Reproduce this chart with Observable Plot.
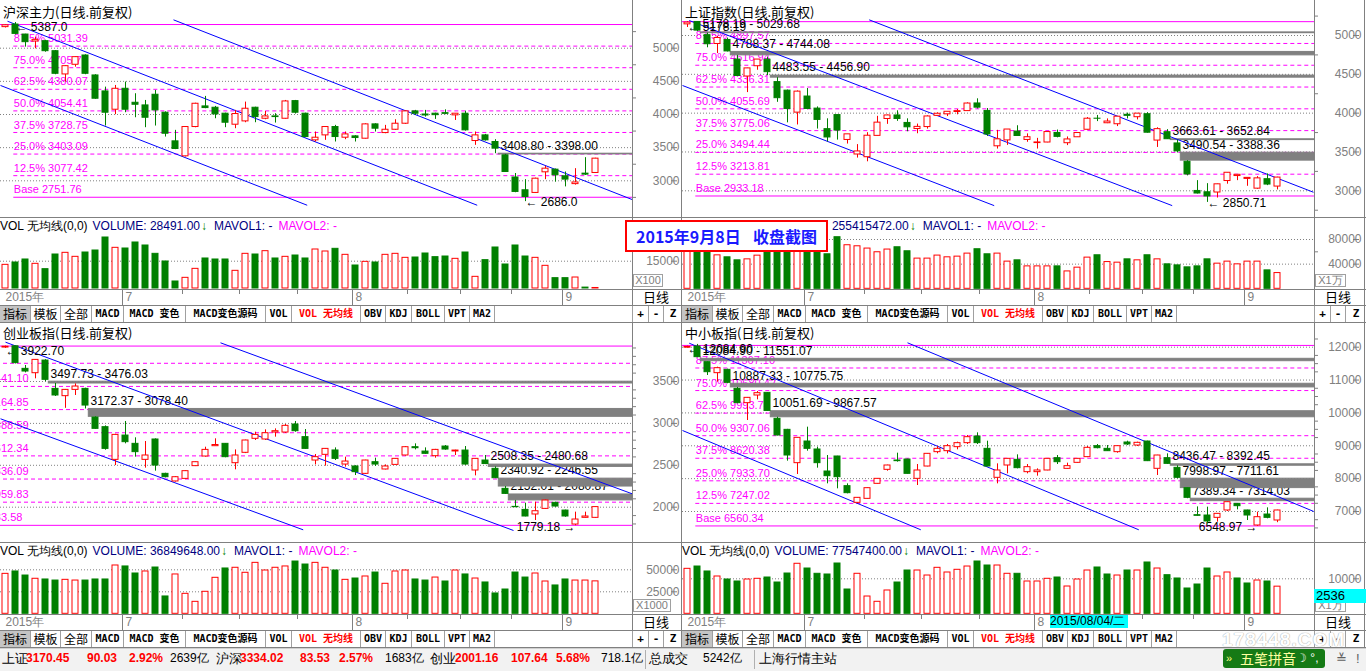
<!DOCTYPE html>
<html>
<head>
<meta charset="utf-8">
<script src="https://cdn.jsdelivr.net/npm/d3@7"></script>
<script src="https://cdn.jsdelivr.net/npm/@observablehq/plot@0.6"></script>
<style>
html, body { margin: 0; padding: 0; background: #fff; }
#root { position: relative; width: 1366px; height: 671px; overflow: hidden; background: #fff; font-family: "Liberation Sans", Arial, sans-serif; color: #000; }
#root .a { position: absolute; white-space: nowrap; }
.cjk { font-family: "Noto Sans CJK SC", "Liberation Sans", sans-serif; }
</style>
</head>
<body>
<div id="root"></div>
<script>
// ---------------- DATA ----------------
// 沪深主力
const hsOpen  = [5318,5357,5206,5101,5106,4955,4604,4750,4890,4589,4348,4072,4388,4177,4137,4298,4027,3595,3369,3811,4122,4102,4012,3846,3896,4102,3936,3971,3936,4202,4012,3610,3685,3811,3650,3670,3635,3851,3720,3770,3861,4047,4000,4012,4020,3987,4012,3600,3685,3585,3384,3050,2857,2817,3128,3168,3068,2950,3108,3118];
const hsHigh  = [5352,5387,5210,5166,5120,4965,4735,4870,4900,4600,4413,4438,4489,4313,4212,4363,4040,3761,3815,4170,4273,4122,4020,4062,4187,4110,4047,4012,4212,4212,4020,3736,3815,3836,3736,3680,3860,3860,3836,3921,4060,4062,4062,4020,4070,4015,4050,3736,3700,3620,3398,3110,3017,3040,3218,3178,3133,3183,3349,3340];
const hsLow   = [5305,5200,5016,4991,4940,4600,4489,4714,4600,4230,3826,3997,4027,3951,3801,3826,3660,3470,3360,3800,4087,3936,3801,3786,3876,3876,3921,3871,3930,4007,3650,3585,3610,3585,3620,3585,3630,3736,3710,3760,3850,3987,3961,3926,3997,3910,3750,3535,3600,3408.8,3125,2820,2686,2810,3017,2980,2908,2935,3080,3110];
const hsClose = [5345,5216,5091,5126,4955,4614,4729,4865,4614,4238,4027,4388,4072,4147,3951,4062,3710,3480,3811,4162,4097,4002,3876,4007,4087,3961,3971,3961,4197,4027,3660,3650,3811,3660,3700,3645,3851,3786,3770,3861,4047,4012,3985,3990,4010,4012,3761,3685,3610,3485,3133,2832,2756,3032,3183,3083,3018,2975,3093,3334.02];
const hsVol   = [13000,14290,15940,13560,10620,18680,19600,17400,19780,20880,28020,22350,21980,25280,23630,19050,14840,3850,5860,10800,16490,15940,15940,9710,19050,18680,20510,16490,17400,18130,16490,21430,20330,21800,18500,12640,14650,14290,18500,19050,16850,17030,19230,17220,17580,16300,19780,6410,15570,22530,13190,23630,17580,16850,12460,5680,5680,6040,500,285];
// 上证指数
const shOpen  = [5143.34,5174.42,5004.42,4890.80,4942.52,4689.93,4471.61,4604.42,4688.43,4399.92,4289.77,4006.75,4214.15,4058.55,3793.80,3975.21,3654.78,3467.40,3432.45,3707.46,3924.83,3970.49,3874,3795.43,3820.78,3965.29,3984.86,4014.73,4026.43,4124.91,4028.90,3573.08,3648.91,3763,3655,3614.54,3621.86,3745.14,3612.87,3689.32,3786.03,3928.80,3870,3857.18,3978.62,3947.84,3986.29,3646.80,3754.57,3609.96,3373.48,2998,2980.80,2978.03,3125.84,3190,3153,3027.68,3149.38,3054.44];
const shHigh  = [5178.19,5176.79,5029.68,4990.69,4966.58,4744.08,4577.92,4690.15,4720.74,4456.90,4297.47,4286.09,4317.05,4080.38,3927.14,3975.21,3726.13,3595,3748.48,3959.22,3975.06,4030.19,3927,3859.25,3965.34,4003.89,4017.67,4046.72,4132.61,4184.45,4059.86,3778.89,3789.37,3837.84,3733,3675.46,3757.53,3782.35,3693.34,3744.20,3943.03,3970.34,3926,3955.37,4000.68,3994.54,4006.34,3811.92,3787.46,3652.84,3388.36,3131,3092.12,3085.42,3232.35,3210,3170,3182.69,3217.56,3174.71];
const shLow   = [5103.40,5048.74,4841.65,4767.76,4788.37,4476.50,4264.77,4552.46,4483.55,4139.53,3875.05,3847.88,4043.88,3795.25,3629.56,3653.07,3602.17,3421.53,3373.54,3707.46,3855.78,3894.64,3760.09,3734.64,3794.16,3964.27,3955.83,3978.57,4026.43,4054.12,3699.70,3537.69,3584.85,3700.64,3625,3537.78,3618.81,3681.86,3582.14,3687.35,3782.47,3891.19,3865,3827.00,3925.52,3912.98,3743.22,3558.38,3663.61,3490.54,3191.88,2959,2850.71,2906.85,3085.35,3131,3058,3019.11,3066.30,3011.12];
const shClose = [5166.35,5062.99,4887.43,4967.90,4795.00,4478.36,4576.49,4690.15,4527.78,4192.87,4053.03,4277.22,4053.70,3912.77,3686.92,3775.91,3727.12,3507.19,3709.33,3877.80,3970.39,3924.49,3818,3823.18,3957.35,3992.11,4017.67,4026.04,4123.92,4070.91,3725.56,3663.00,3789.17,3705.77,3690,3622.91,3756.55,3694.57,3661.54,3744.20,3928.42,3927.91,3892,3954.56,3965.33,3993.67,3748.16,3794.11,3664.29,3507.74,3209.91,2964.97,2927.29,3083.59,3232.35,3205.99,3166.62,3160.17,3080.42,3170.45];
const shVol   = [70000,68000,65000,54300,51100,46200,47800,53800,63000,68000,80000,78000,72000,66000,56000,83700,70700,69000,65300,59300,63700,67400,60900,49000,49000,53900,51100,52200,57100,64200,56000,57100,44100,46200,36400,36400,36400,36400,28200,34300,50600,54400,43400,42400,47800,46200,54400,47800,39700,38000,34800,36400,47800,40800,44100,39700,44100,44100,29900,25540];
// 创业板指
const cyOpen  = [3905,3920,3651,3599,3750,3412,3325,3400,3412,3070,2955,2565,2855,2756,2565,2808,2398,2307,2338,2490,2605,2728,2756,2525,2649,2816,2808,2891,2891,2987,2836,2557,2625,2677,2509,2486,2398,2537,2450,2505,2617,2716,2664,2609,2724,2665,2676,2438,2557,2458,2219,2004,1968,1913,1980,2052,1960,1793,1873,1873];
const cyHigh  = [3922.70,3922,3691,3760,3760,3476.03,3405,3472,3420,3078.40,2970,2870,3023,2828,2784,2815,2405,2365,2435,2540,2716,2816,2760,2684,2800,2895,2923,2935,2987,3023,2927,2629,2700,2708,2597,2495,2560,2585,2505,2580,2724,2756,2708,2690,2736,2680,2724,2580,2617,2480.68,2246.55,2080.87,2048,2060,2085,2060,1965,1941,1941,2003];
const cyLow   = [3895,3710,3603,3532,3497.73,3321,3180,3333,3172.37,2930,2680,2497,2756,2597,2466,2430,2350,2300,2330,2485,2597,2728,2590,2446,2640,2796,2796,2836,2880,2895,2690,2505,2490,2557,2478,2378,2390,2486,2445,2500,2610,2684,2630,2585,2680,2617,2500,2374,2508.35,2340.92,2152.01,1995,1885,1841,1975,2000,1880,1779.18,1870,1868];
const cyClose = [3915,3719,3619,3758,3520,3333,3400,3440,3213,2935,2696,2863,2776,2657,2617,2497,2358,2358,2430,2537,2684,2742,2597,2617,2796,2863,2883,2907,2971,2907,2696,2597,2696,2577,2545,2418,2557,2509,2486,2577,2716,2704,2637,2684,2688,2676,2509,2577,2515,2346,2159,2000,1889,1952,2080,2008,1889,1853,1889,2001.16];
const cyVol   = [45400,48100,43500,39800,39000,37800,38600,37800,37800,39000,39000,54900,53800,45800,48100,52600,19700,44700,22700,13600,25000,40900,51500,52300,46600,57900,49200,52300,53800,59400,56000,57900,52300,49200,38600,40100,42400,46900,34100,48100,49200,39000,37800,41200,36700,49200,44700,40100,35600,23100,27600,46900,41200,45800,36700,32200,39000,37800,37800,36850];
// 中小板指
const zxOpen  = [11985,12021,11544,11210,11311,10733,10297,10530,10611,9820,9485,8471,9130,8887,8217,8674,7771,7264,7385,7842,8268,8552,8582,7994,8369,8806,8836,8958,9080,9282,8907,8025,8400,8572,8197,8197,8248,8623,8298,8481,8654,8988,8907,8806,9100,9008,9130,8299,8623,8329,7710,6888,6878,6807,7031,7233,7031,6574,6908,6726];
const zxHigh  = [12030,12084.90,11551.07,11392,11330,10775.75,10470,10652,10620,9867.57,9500,9250,9566,8958,8704,8680,7842,7425,7715,8000,8410,8775,8590,8430,8765,8978,9039,9110,9313,9394,9140,8450,8610,8724,8430,8298,8610,8704,8471,8610,8978,9039,9008,8995,9140,9110,9140,8710,8755,8392.45,7711.61,7140,7132,6935,7290,7240,7040,6980,7111,7040];
const zxLow   = [11970,11680,11139,10936,10887.33,10280,9769,10398,10051.69,9300,8532,8126,8836,8319,7842,7690,7538,7233,7380,7835,8227,8502,8140,7791,8360,8755,8755,8877,9039,9039,8360,7842,8146,8298,8146,8075,8240,8430,8290,8470,8640,8907,8830,8775,9008,8978,8520,8096,8436.47,7998.97,7389.34,6860,6620,6675,7000,7050,6726,6548.97,6777,6660];
const zxClose = [12010,11697,11240,11362,10916,10297,10459,10601,10060,9313,8704,9242,8907,8471,8075,8045,7558,7416,7710,7994,8400,8532,8146,8248,8755,8907,8988,9080,9262,9080,8369,8248,8603,8319,8349,8248,8603,8501,8380,8603,8938,8927,8836,8988,9039,9090,8532,8704,8450,8025,7416,6868,6696,6929,7284,7162,6878,6827,6807,7031];
const zxVol   = [12850,13510,12090,10660,9800,9230,9800,10000,10370,8940,11510,14290,12940,11430,11230,14370,6940,11430,4940,3430,6660,8940,12370,12370,10940,13140,11800,12570,13510,14940,13800,13800,11430,11430,9230,9230,10000,10370,7800,9800,12370,13230,11230,10940,12370,12370,14660,12940,11030,10090,7230,8370,12940,10660,11800,10090,8660,9510,9230,7755];

// Fibonacci levels (Base .. 87.5%) and the top line
const fibNames = ["Base","12.5%","25.0%","37.5%","50.0%","62.5%","75.0%","87.5%"];
const hsFib = [2751.76,3077.42,3403.09,3728.75,4054.41,4380.07,4705.73,5031.39];
const shFib = [2933.18,3213.81,3494.44,3775.06,4055.69,4336.31,4616.94,4897.57];
const cyFib = [1783.58,2059.83,2336.09,2612.34,2888.59,3164.85,3441.10,3717.35];
const zxFib = [6560.34,7247.02,7933.70,8620.38,9307.06,9993.74,10680.42,11367.10];
const hsFibTop = 5357.04, shFibTop = 5178.19, cyFibTop = 3922.70, zxFibTop = 12053.78;

// gaps (bar index, range)
const hsGaps = [{i:49,hi:3408.80,lo:3398.00}];
const shGaps = [{i:1,hi:5178.19,lo:5029.68,top:5040,bottom:5029.68},{i:4,hi:4788.37,lo:4744.08},{i:8,hi:4483.55,lo:4456.90},{i:48,hi:3663.61,lo:3652.84},{i:49,hi:3490.54,lo:3388.36}];
const cyGaps = [{i:4,hi:3497.73,lo:3476.03},{i:8,hi:3172.37,lo:3078.40},{i:48,hi:2508.35,lo:2480.68},{i:49,hi:2340.92,lo:2246.55},{i:50,hi:2152.01,lo:2080.87}];
const zxGaps = [{i:1,hi:12084.90,lo:11551.07,top:11647,bottom:11574},{i:4,hi:10887.33,lo:10775.75},{i:8,hi:10051.69,lo:9867.57},{i:48,hi:8436.47,lo:8392.45},{i:49,hi:7998.97,lo:7711.61},{i:50,hi:7389.34,lo:7314.03}];

// channel lines [index1, price1, index2, price2]
const hsLines = [[16.8,5427.7,62.67,2716.9],[0.2,5406.6,47.17,2631],[-0.5,4438,30.17,2631]];
const shLines = [[18.17,5202,62.6,2981],[0.17,5193,48.47,2809],[-0.5,4356,30.67,2809]];
const cyLines = [[21.5,3961.8,62.67,2159.9],[0,3969,50.8,1722],[-0.5,3055,29.77,1730]];
const zxLines = [[22,12134,62.63,7000],[0.17,12122,45.13,6443],[-0.5,9465,23.33,6443]];

// high / low markers
const hsHL = [{i:1,v:5387.0,kind:"high",dir:"left",dp:1},{i:52,v:2686.0,kind:"low",dir:"left",dp:1}];
const shHL = [{i:0,v:5178.19,kind:"high",dir:"left",dp:2},{i:52,v:2850.71,kind:"low",dir:"left",dp:2}];
const cyHL = [{i:0,v:3922.70,kind:"high",dir:"left",dp:2},{i:57,v:1779.18,kind:"low",dir:"right",dp:2}];
const zxHL = [{i:0,v:12084.90,kind:"high",dir:"left",dp:2},{i:57,v:6548.97,kind:"low",dir:"right",dp:2}];

// axis ticks
const hsTicks = [5000,4500,4000,3500,3000];
const shTicks = [5000,4500,4000,3500,3000];
const cyTicks = [3500,3000,2500,2000];
const zxTicks = [12000,11000,10000,9000,8000,7000];
const hsVolTicks = [15000];
const shVolTicks = [80000,40000];
const cyVolTicks = [50000,25000];
const zxVolTicks = [10000];

// date axis
const monthIdx = [12,35,56];
const monthNames = ["7","8","9"];
const dateTickIdx = [17.7,23.4,29.2,40.2,45.5,50.6];

// ---------------- DRAWING ----------------
const GREEN = "#008000", RED = "#ff0000", MAG = "#ff00ff", GRAY = "#808080", BLUE = "#0000ff";
const root = document.getElementById("root");
const plotStyle = {background: "transparent", fontFamily: '"Liberation Sans", Arial, sans-serif', fontSize: "12px", color: GRAY, overflow: "hidden"};

function box(css, html, cls) {
  const d = document.createElement("div");
  d.className = "a" + (cls ? " " + cls : "");
  d.style.cssText = css;
  if (html !== undefined) d.innerHTML = html;
  root.appendChild(d);
  return d;
}
function put(el, left, top) {
  el.style.position = "absolute";
  el.style.left = left + "px";
  el.style.top = top + "px";
  root.appendChild(el);
}
const xScale = {domain: [0, 59], range: [5, 595], axis: null, label: null};

function candleChart(p) {
  const rows = p.open.map((o, i) => ({i, o, h: p.high[i], l: p.low[i], c: p.close[i]}));
  const up = rows.filter(d => d.c >= d.o), dn = rows.filter(d => d.c < d.o);
  const fibRows = p.fib.map((v, k) => ({v, k, t: fibNames[k] + " " + v.toFixed(2)}));
  const gaps = p.gaps.map(g => ({i: g.i, top: g.top ?? g.hi, bottom: g.bottom ?? g.lo, t: g.hi.toFixed(2) + " - " + g.lo.toFixed(2)}));
  const hl = p.hl.map(d => ({...d, t: d.dir === "right" ? d.v.toFixed(d.dp) + " →" : "← " + d.v.toFixed(d.dp)}));
  const minor = d3.range(p.minor[0], p.minor[1] + 1, p.minor[2]).filter(v => !p.grid.includes(v));
  const lines = p.lines.map(([a, b, c, d]) => ({x1: a, y1: b, x2: c, y2: d}));
  const bx1 = d => d.i - 0.3, bx2 = d => d.i + 0.3;
  return Plot.plot({
    width: p.w, height: p.ch,
    marginTop: 0, marginBottom: 0, marginLeft: 0, marginRight: p.axisW,
    style: plotStyle,
    x: xScale,
    y: {domain: p.yDom, range: p.yRan, axis: null, label: null},
    marks: [
      Plot.ruleY(p.grid, {stroke: GRAY, strokeDasharray: "1,2"}),
      Plot.axisY({ticks: minor, anchor: "right", tickSize: 3, tickFormat: () => "", color: GRAY, label: null}),
      Plot.axisY({ticks: p.grid, anchor: "right", tickSize: 6, tickPadding: 3, textAnchor: "end", dx: 38, fontSize: 12, tickFormat: d => String(d), color: GRAY, label: null}),
      Plot.ruleY(fibRows.slice(1), {y: "v", x1: p.labelIdx, x2: 70, stroke: MAG, strokeDasharray: "4,3", clip: true}),
      Plot.ruleY(fibRows.slice(0, 1), {y: "v", x1: p.labelIdx, x2: 70, stroke: MAG, clip: true}),
      Plot.ruleY([p.fibTop], {stroke: MAG}),
      Plot.text(fibRows.filter(d => !p.fibSkip.includes(d.k)), {x: p.labelIdx, y: "v", text: "t", textAnchor: "start", dy: -7.5, fill: MAG, fontSize: 11, clip: true}),
      Plot.text(gaps, {x: d => d.i + 0.5, y: "top", text: "t", textAnchor: "start", dy: -8, fill: "#000", fontSize: 12}),
      Plot.rect(gaps, {x1: d => d.i + 0.33, x2: 70, y1: "top", y2: "bottom", fill: GRAY, stroke: GRAY, clip: true}),
      Plot.link(lines, {x1: "x1", y1: "y1", x2: "x2", y2: "y2", stroke: BLUE, clip: true}),
      Plot.text(hl.filter(d => d.dir === "left" && d.kind === "high"), {x: "i", y: "v", text: "t", textAnchor: "start", dy: 5, fill: "#000", fontSize: 12}),
      Plot.text(hl.filter(d => d.dir === "left" && d.kind === "low"), {x: "i", y: "v", text: "t", textAnchor: "start", dy: 1, fill: "#000", fontSize: 12}),
      Plot.text(hl.filter(d => d.dir === "right"), {x: "i", y: "v", text: "t", textAnchor: "end", dy: 1, fill: "#000", fontSize: 12}),
      Plot.ruleX(up, {x: "i", y1: "l", y2: "h", stroke: RED}),
      Plot.ruleX(dn, {x: "i", y1: "l", y2: "h", stroke: GREEN}),
      Plot.rect(up, {x1: bx1, x2: bx2, y1: "o", y2: "c", fill: "#fff", stroke: RED}),
      Plot.rect(dn, {x1: bx1, x2: bx2, y1: "o", y2: "c", fill: GREEN, stroke: GREEN})
    ]
  });
}

function volChart(p) {
  const rows = p.vol.map((v, i) => ({i, v, up: p.close[i] >= p.open[i]}));
  const bx1 = d => d.i - 0.3, bx2 = d => d.i + 0.3;
  return Plot.plot({
    width: p.w, height: 72,
    marginTop: 0, marginBottom: 0, marginLeft: 0, marginRight: p.axisW,
    style: plotStyle,
    x: xScale,
    y: {domain: p.vDom, range: p.vRan, axis: null, label: null},
    marks: [
      Plot.ruleY(p.vTicks, {stroke: GRAY, strokeDasharray: "1,2"}),
      p.vMinor.length ? Plot.axisY({ticks: p.vMinor, anchor: "right", tickSize: 3, tickFormat: () => "", color: GRAY, label: null}) : null,
      Plot.axisY({ticks: p.vTicks, anchor: "right", tickSize: 6, tickPadding: 3, textAnchor: "end", dx: 38, fontSize: 12, tickFormat: d => String(d), color: GRAY, label: null}),
      Plot.rect(rows.filter(d => d.up), {x1: bx1, x2: bx2, y1: 0, y2: "v", fill: "#fff", stroke: RED}),
      Plot.rect(rows.filter(d => !d.up), {x1: bx1, x2: bx2, y1: 0, y2: "v", fill: GREEN, stroke: GREEN})
    ]
  });
}

function dateChart(p) {
  return Plot.plot({
    width: p.w, height: 16,
    marginTop: 0, marginBottom: 0, marginLeft: 0, marginRight: p.axisW,
    style: plotStyle,
    x: xScale,
    marks: [
      Plot.ruleX(monthIdx.map(d => d - 0.3), {stroke: GRAY}),
      Plot.ruleX(dateTickIdx, {stroke: GRAY, insetBottom: 11}),
      Plot.text(monthIdx, {x: d => d, text: (d, k) => monthNames[k], textAnchor: "start", fill: GRAY, fontSize: 12}),
      Plot.text([0], {x: d => d, text: () => "2015年", textAnchor: "start", fill: GRAY, fontSize: 12})
    ]
  });
}

const P = [
  {title: "沪深主力(日线.前复权)", left: 0, top: 0, w: 682, axisW: 50, ch: 217, titleDy: 4,
   open: hsOpen, high: hsHigh, low: hsLow, close: hsClose, vol: hsVol,
   yDom: [5000, 3000], yRan: [47.7, 180.3], grid: hsTicks, minor: [2750, 5250, 250],
   fib: hsFib, fibTop: hsFibTop, labelIdx: 0.83, fibSkip: [], gaps: hsGaps, lines: hsLines, hl: hsHL,
   vDom: [0, 15000], vRan: [71, 43.7], vTicks: hsVolTicks, vMinor: [], volText: "28491.00", unit: "X100", unitW: 28},
  {title: "上证指数(日线.前复权)", left: 682, top: 0, w: 684, axisW: 52, ch: 217, titleDy: 4,
   open: shOpen, high: shHigh, low: shLow, close: shClose, vol: shVol,
   yDom: [5000, 3000], yRan: [35, 190.3], grid: shTicks, minor: [2750, 5250, 250],
   fib: shFib, fibTop: shFibTop, labelIdx: 0.83, fibSkip: [], gaps: shGaps, lines: shLines, hl: shHL,
   vDom: [0, 80000], vRan: [71.3, 22], vTicks: shVolTicks, vMinor: [60000, 20000], volText: "255415472.00", unit: "X1万", unitW: 29},
  {title: "创业板指(日线.前复权)", left: 0, top: 323, w: 682, axisW: 50, ch: 219, titleDy: 2,
   open: cyOpen, high: cyHigh, low: cyLow, close: cyClose, vol: cyVol,
   yDom: [3500, 2000], yRan: [58, 183.7], grid: cyTicks, minor: [1800, 3900, 100],
   fib: cyFib, fibTop: cyFibTop, labelIdx: -5.1, fibSkip: [7], gaps: cyGaps, lines: cyLines, hl: cyHL,
   vDom: [0, 50000], vRan: [71.3, 27.3], vTicks: cyVolTicks, vMinor: [], volText: "36849648.00", unit: "X1000", unitW: 36},
  {title: "中小板指(日线.前复权)", left: 682, top: 323, w: 684, axisW: 52, ch: 219, titleDy: 2,
   open: zxOpen, high: zxHigh, low: zxLow, close: zxClose, vol: zxVol,
   yDom: [12000, 7000], yRan: [23.7, 188], grid: zxTicks, minor: [6500, 12250, 250],
   fib: zxFib, fibTop: zxFibTop, labelIdx: 0.83, fibSkip: [], gaps: zxGaps, lines: zxLines, hl: zxHL,
   vDom: [0, 10000], vRan: [71.3, 36.3], vTicks: zxVolTicks, vMinor: [], volText: "77547400.00", unit: "X1万", unitW: 29}
];

const tabDefs = [["指标",0,31],["模板",31,30],["全部",61,31],["MACD",92,32],["MACD 变色",124,62],["MACD变色源码",186,80],["VOL",266,26],["VOL 无均线",292,69],["OBV",361,25],["KDJ",386,26],["BOLL",412,33],["VPT",445,25],["MA2",470,25]];

for (const p of P) {
  put(candleChart(p), p.left, p.top);
  put(volChart(p), p.left, p.top + p.ch);
  put(dateChart(p), p.left, p.top + p.ch + 72);
  const ax = p.left + p.w - p.axisW;
  box(`left:${p.left + 3}px;top:${p.top + p.titleDy}px;font-size:13px;line-height:16px;`, p.title, "cjk");
  box(`left:${p.left}px;top:${p.top + p.ch + 2}px;font-size:12px;line-height:14px;`,
    `VOL 无均线(0,0)<span style="color:#000080;margin-left:5px">VOLUME: ${p.volText}</span><span style="color:${GREEN};margin-left:1px">↓</span><span style="color:#000080;margin-left:7px">MAVOL1: -</span><span style="color:${MAG};margin-left:6px">MAVOL2: -</span>`);
  box(`left:${ax + 1}px;top:${p.top + p.ch + 57}px;width:${p.unitW}px;height:11px;border:1px solid #a0a0a0;font-size:11px;line-height:11px;color:${GRAY};text-align:center;background:#fff;`, p.unit);
  box(`left:${ax + 11}px;top:${p.top + p.ch + 72}px;font-size:13px;line-height:16px;color:#000;`, "日线", "cjk");
  const ty = p.top + p.ch + 88;
  for (const [name, l, w] of tabDefs) {
    const pressed = name === "指标";
    const red = name === "VOL 无均线";
    const isCjk = /^[\u4e00-\u9fff]+$/.test(name);
    box(`left:${p.left + l}px;top:${ty}px;width:${w - 1}px;height:17px;border-right:1px solid #a0a0a0;background:${pressed ? "#c4c4c4" : "#fff"};text-align:center;line-height:17px;font-size:${isCjk ? 12 : 10}px;font-weight:${isCjk ? "normal" : "bold"};color:${red ? RED : "#000"};font-family:${isCjk ? '"Noto Sans CJK SC"' : '"DejaVu Sans Mono","Noto Sans CJK SC"'};`, name);
  }
  [["+", 0, 16], ["-", 16, 15], ["Z", 31, p.axisW - 31]].forEach(([s, l, w]) => {
    box(`left:${ax + l}px;top:${ty}px;width:${w - 1}px;height:17px;border-left:1px solid #a0a0a0;text-align:center;line-height:17px;font-size:11px;font-weight:bold;font-family:'DejaVu Sans Mono';`, s);
  });
}

function hline(x, y, w, c) { box(`left:${x}px;top:${y}px;width:${w}px;height:1px;background:${c || GRAY};`); }
function vline(x, y, h, c) { box(`left:${x}px;top:${y}px;width:1px;height:${h}px;background:${c || GRAY};`); }
[217, 289, 305, 322, 542, 614, 630, 647].forEach(y => hline(0, y, 1366));
vline(632, 0, 305); vline(632, 323, 307);
vline(1314, 0, 305); vline(1314, 323, 307);
vline(681, 0, 648); vline(1364, 0, 648);

box(`left:1050px;top:615px;width:78px;height:13px;background:#00ffff;font-size:12px;line-height:13px;color:#000;`, "2015/08/04/二");
box(`left:1314px;top:589px;width:50px;height:14px;background:#00ffff;font-size:13px;line-height:14px;color:#000;padding-left:2px;`, "2536");

box(`left:0;top:648px;width:1366px;height:23px;background:#f2f2f2;border-top:1px solid #d0d0d0;`);
const statusItems = [
  [2,"上证","#000",13,false],[26,"3170.45",RED,12,true],[87,"90.03",RED,12,true],[129,"2.92%",RED,12,true],[170,"2639亿","#000",12,false],
  [216,"沪深","#000",13,false],[240,"3334.02",RED,12,true],[300,"83.53",RED,12,true],[339,"2.57%",RED,12,true],[385,"1683亿","#000",12,false],
  [430,"创业","#000",13,false],[455,"2001.16",RED,12,true],[511,"107.64",RED,12,true],[556,"5.68%",RED,12,true],[601,"718.1亿","#000",12,false],
  [649,"总成交","#000",13,false],[703,"5242亿","#000",12,false],[759,"上海行情主站","#000",13,false]
];
for (const [x, s, c, fs, b] of statusItems) {
  box(`left:${x}px;top:650px;font-size:${fs}px;line-height:17px;color:${c};font-weight:${b ? "bold" : "normal"};`, s);
}
vline(645, 650, 19, "#b0b0b0"); vline(754, 650, 19, "#b0b0b0");
box(`left:1222px;top:630px;font-size:19px;font-weight:bold;line-height:20px;color:#fff;text-shadow:0 0 1px #aaa,0 0 1px #aaa;letter-spacing:1px;`, "178448.COM");
box(`left:1223px;top:649px;width:102px;height:19px;background:#157a15;border-radius:3px;`);
box(`left:1226px;top:650px;font-size:11px;line-height:17px;color:#ffff80;`, "»");
box(`left:1240px;top:649px;font-size:14px;line-height:19px;color:#ffffa0;`, "五笔拼音", "cjk");
box(`left:1296px;top:649px;font-size:12px;line-height:19px;color:#fff;`, "☽ °,");
box(`left:1336px;top:650px;font-size:13px;line-height:17px;color:#606060;`, "≚");
box(`left:1356px;top:650px;font-size:13px;line-height:17px;color:#606060;`, "!");

box(`left:625px;top:220px;width:199px;height:28px;border:2px solid #ff0000;background:#fff;font-weight:bold;font-size:16px;line-height:28px;color:#1a1aff;`,
  `<span class="cjk" style="position:absolute;left:9px;font-weight:bold">2015年9月8日</span><span class="cjk" style="position:absolute;left:126px;font-weight:bold">收盘截图</span>`);
</script>
</body>
</html>
